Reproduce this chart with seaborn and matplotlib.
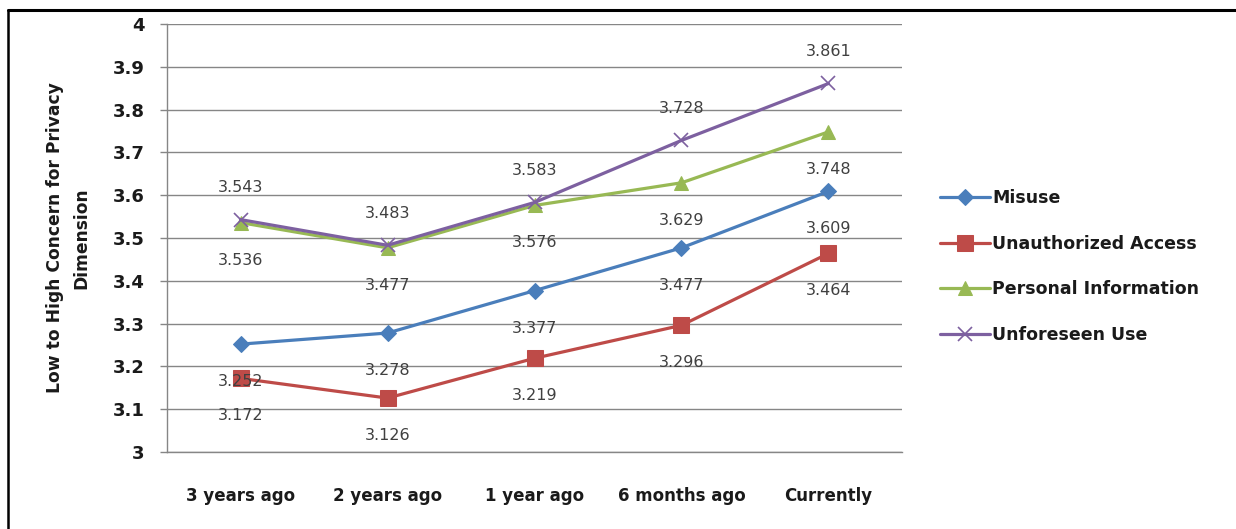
import matplotlib
matplotlib.use("Agg")
import matplotlib.pyplot as plt
from matplotlib.lines import Line2D
from matplotlib.ticker import FixedLocator, FuncFormatter
import seaborn as sns
import numpy as np

# ---- data ----
periods = ["3 years ago", "2 years ago", "1 year ago", "6 months ago", "Currently"]
misuse = [3.252, 3.278, 3.377, 3.477, 3.609]
unauthorized_access = [3.172, 3.126, 3.219, 3.296, 3.464]
personal_information = [3.536, 3.477, 3.576, 3.629, 3.748]
unforeseen_use = [3.543, 3.483, 3.583, 3.728, 3.861]
series_names = ["Misuse", "Unauthorized Access", "Personal Information", "Unforeseen Use"]
y_ticks = [3.0, 3.1, 3.2, 3.3, 3.4, 3.5, 3.6, 3.7, 3.8, 3.9, 4.0]

sns.set_theme(style="white")
plt.rcParams["font.family"] = ["DejaVu Sans"]

fig = plt.figure(figsize=(12.36, 5.29), dpi=100)
ax = fig.add_axes([167 / 1236, 1 - 452 / 529, (902 - 167) / 1236, (452 - 24) / 529])

grid_col = "#868686"
label_col = "#404040"
text_col = "#1a1a1a"

styles = [
    # values, colour, marker, markersize, label offset (points, negative = below)
    (misuse, "#4A7EBB", "D", 8, -27),
    (unauthorized_access, "#BE4B48", "s", 11, -27),
    (personal_information, "#98B954", "^", 10, -27),
    (unforeseen_use, "#7D60A0", "x", 10, 23),
]

x = np.arange(len(periods))
for name, (vals, col, mk, ms, dy) in zip(series_names, styles):
    kw = dict(markeredgecolor=col, markerfacecolor=col)
    if mk == "x":
        kw = dict(markeredgecolor=col, markeredgewidth=1.2)
    sns.lineplot(x=x, y=vals, ax=ax, color=col, linewidth=2.3, marker=mk,
                 markersize=ms, label=name, zorder=3, **kw)
    for xi, v in zip(x, vals):
        ax.annotate(f"{v:.3f}", (xi, v), xytext=(0, dy), textcoords="offset points",
                    ha="center", va="center", fontsize=11.5, color=label_col, zorder=4)

ax.set_xlim(-0.5, len(periods) - 0.5)
ax.set_ylim(3.0, 4.0)
ax.set_yticks(y_ticks)
ax.yaxis.set_major_formatter(FuncFormatter(lambda v, p: f"{v:g}"))
ax.set_xticks(x)
ax.set_xticklabels(periods)
ax.xaxis.set_minor_locator(FixedLocator(np.arange(-0.5, len(periods), 1.0)))
ax.tick_params(axis="x", which="major", length=0, pad=25, labelsize=12,
               labelcolor=text_col)
ax.tick_params(axis="x", which="minor", length=5, width=1, color=grid_col, direction="out")
ax.tick_params(axis="y", which="major", length=5, width=1, color=grid_col, direction="out",
               labelsize=13, labelcolor=text_col, pad=11, left=True)
for t in ax.get_xticklabels() + ax.get_yticklabels():
    t.set_fontweight("bold")

ax.yaxis.grid(True, color=grid_col, linewidth=1)
ax.xaxis.grid(False)
for side in ["top", "right"]:
    ax.spines[side].set_visible(False)
for side in ["left", "bottom"]:
    ax.spines[side].set_color(grid_col)
    ax.spines[side].set_linewidth(1)

ax.set_xlabel("")
ax.set_ylabel("Low to High Concern for Privacy\nDimension", fontsize=12.3,
              fontweight="bold", color=text_col, labelpad=16, linespacing=1.6)

leg = ax.legend(loc="center left", bbox_to_anchor=(940 / 1236, 1 - 266.5 / 529),
                bbox_transform=fig.transFigure, frameon=False, borderpad=0,
                borderaxespad=0, handlelength=2.9, handletextpad=0.12,
                labelspacing=1.6, fontsize=12.5)
for t in leg.get_texts():
    t.set_fontweight("bold")
    t.set_color(text_col)

# outer frame (top and left edges)
fig.add_artist(Line2D([8 / 1236, 1.0], [1 - 10 / 529, 1 - 10 / 529],
                      transform=fig.transFigure, color="black", linewidth=2.2))
fig.add_artist(Line2D([8 / 1236, 8 / 1236], [0.0, 1 - 10 / 529],
                      transform=fig.transFigure, color="black", linewidth=1.8))

fig.savefig("out.png", dpi=100)
